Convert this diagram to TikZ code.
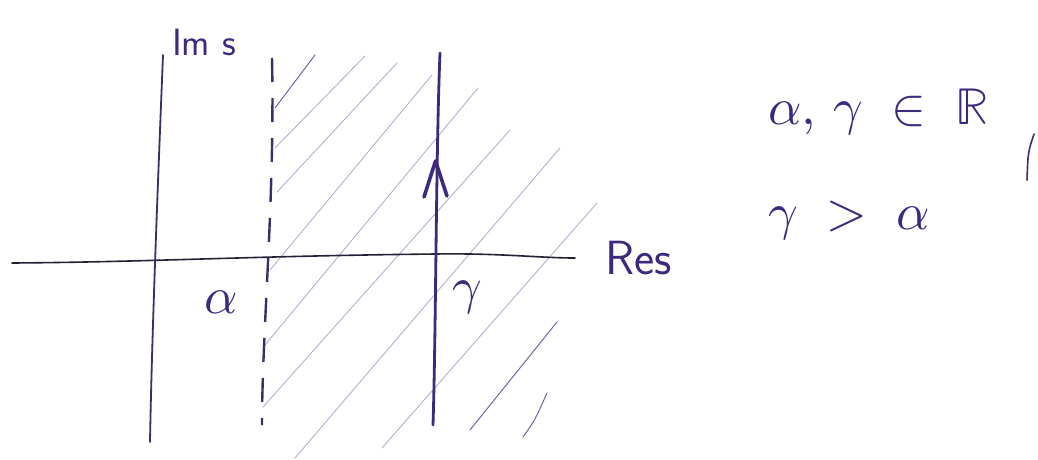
\documentclass[tikz,border=0pt]{standalone}
\usepackage{unicode-math}
\setmathfont{Latin Modern Math}
\definecolor{ink}{RGB}{62,42,125}
\definecolor{axisink}{RGB}{35,32,55}
\definecolor{iminks}{RGB}{55,48,105}
\definecolor{hatchlight}{RGB}{172,168,206}
\definecolor{hatchdark}{RGB}{112,100,172}
\tikzset{
  axisline/.style={draw=axisink, line width=1.6pt, line cap=round},
  imline/.style={draw=iminks, line width=1.8pt, line cap=round},
  dashline/.style={draw=iminks, line width=2.4pt, dash pattern=on 24pt off 16pt},
  contour/.style={draw=ink, line width=2.8pt, line cap=round},
  chevron/.style={draw=ink, line width=3.6pt, line cap=round, line join=round},
  hatch/.style={draw=hatchlight, line width=0.8pt, line cap=round},
  hatchd/.style={draw=hatchdark, line width=1pt, line cap=round},
  label/.style={text=ink, inner sep=0pt},
  bigmath/.style={label, font=\fontsize{52}{62}\selectfont},
  axislabel/.style={label, font=\sffamily\fontsize{48}{56}\selectfont}
}
\begin{document}
\begin{tikzpicture}[x=1pt,y=-1pt]
\useasboundingbox (0,0) rectangle (1038,459);
% hatching
\draw[hatchd] (275,108) -- (315,55);
\draw[hatch] (275,148) -- (365,56);
\draw[hatch] (277,192) -- (397,63);
\draw[hatch] (270,270) -- (432,75);
\draw[hatch] (265,345) -- (478,88);
\draw[hatch] (263,407) -- (510,130);
\draw[hatch] (295,458) -- (560,148);
\draw[hatch] (382,448) -- (597,203);
\draw[hatchd] (470,430) -- (557,322);
\draw[hatchd] (523,437) .. controls (535,420) .. (547,393);
% coordinates
\coordinate (hl) at (12,263);
\coordinate (hr) at (575,258);
\coordinate (imtop) at (163,55);
\coordinate (imbot) at (150,442);
\coordinate (dtop) at (272,58);
\coordinate (dbot) at (262,425);
\coordinate (gtop) at (440,53);
\coordinate (gbot) at (433,425);
\coordinate (gtip) at (435.5,161);
% axes
\draw[axisline] (hl) .. controls (150,262) and (250,256) .. (435,254) .. controls (500,253) and (540,258) .. (hr);
\draw[imline] (imtop) .. controls (158,180) and (152,330) .. (imbot);
\draw[dashline] (dtop) .. controls (275,200) and (262,330) .. (dbot);
\draw[contour] (gtop) .. controls (436,150) and (436,330) .. (gbot);
\draw[chevron] ([xshift=-11.5pt,yshift=-36pt]gtip) -- (gtip) -- ([xshift=11.5pt,yshift=-35pt]gtip);
% labels
\node[axislabel, font=\sffamily\fontsize{38}{44}\selectfont] (ims) at (204,42) {Im s};
\node[axislabel] (res) at (639,258) {Res};
\node[bigmath] (alab) at (221,302) {$\alpha$};
\node[bigmath] (glab) at (467,298) {$\gamma$};
\node[bigmath, anchor=base west] (line1) at (768,124) {$\alpha,\,\gamma\;\in\;\mathbb{R}$};
\node[bigmath, anchor=base west] (line2) at (768,229) {$\gamma\;>\;\alpha$};
% stray mark
\draw[draw=ink, line width=1.6pt, line cap=round] (1034,134) .. controls (1028,152) .. (1027,180);
\end{tikzpicture}
\end{document}
